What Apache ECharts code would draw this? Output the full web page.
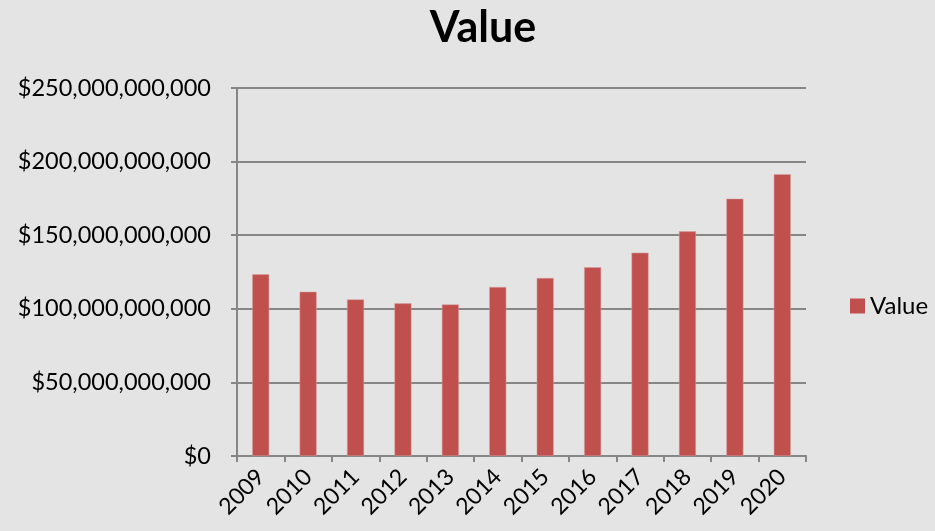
<!DOCTYPE html>
<html><head><meta charset="utf-8">
<script src="https://cdn.jsdelivr.net/npm/echarts@6/dist/echarts.min.js"></script>
<style>html,body{margin:0;padding:0;background:#e4e4e4;}#c{width:935px;height:531px;}</style>
</head><body><div id="c"></div>
<script>
const categories = ['2009','2010','2011','2012','2013','2014','2015','2016','2017','2018','2019','2020'];
const values = [123.4e9, 111.6e9, 106.4e9, 103.7e9, 103.0e9, 114.8e9, 120.9e9, 128.2e9, 138.1e9, 152.6e9, 174.8e9, 191.4e9];
const seriesName = 'Value';
const chart = echarts.init(document.getElementById('c'));
const font = 'Lato, "Open Sans", sans-serif';
function fmt(v){ return '$' + Math.round(v).toString().replace(/\B(?=(\d{3})+(?!\d))/g, ','); }
chart.setOption({
  backgroundColor: '#e4e4e4',
  animation: false,
  title: { text: 'Value', left: 478, textAlign: 'center', top: 2, textStyle: { fontFamily: font, fontSize: 43, fontWeight: 'bold', color: '#000' } },
  legend: { data: [seriesName], left: 845, top: 289, itemWidth: 15, itemHeight: 15, itemGap: 6, icon: 'rect',
    itemStyle: { borderWidth: 0 },
    textStyle: { fontFamily: font, fontSize: 24, color: '#000' } },
  grid: { left: 237, right: 129, top: 88, bottom: 75, containLabel: false },
  xAxis: { type: 'category', data: categories,
    axisLine: { lineStyle: { color: '#868686', width: 2 } },
    axisTick: { show: true, length: 6, lineStyle: { color: '#868686', width: 2 }, alignWithLabel: false },
    axisLabel: { rotate: 45, fontFamily: font, fontSize: 23, color: '#000', margin: 17, interval: 0 },
    splitLine: { show: false } },
  yAxis: { type: 'value', min: 0, max: 250e9, interval: 50e9,
    axisLine: { show: true, lineStyle: { color: '#868686', width: 2 } },
    axisTick: { show: true, length: 6, lineStyle: { color: '#868686', width: 2 } },
    axisLabel: { formatter: fmt, fontFamily: font, fontSize: 23.5, color: '#000', margin: 26 },
    splitLine: { show: true, lineStyle: { color: '#868686', width: 2 } } },
  series: [{ name: seriesName, type: 'bar', data: values, barWidth: 17,
    itemStyle: { color: '#c0504d', borderColor: '#d9a3a2', borderWidth: 0.5 } }]
});
</script></body></html>
